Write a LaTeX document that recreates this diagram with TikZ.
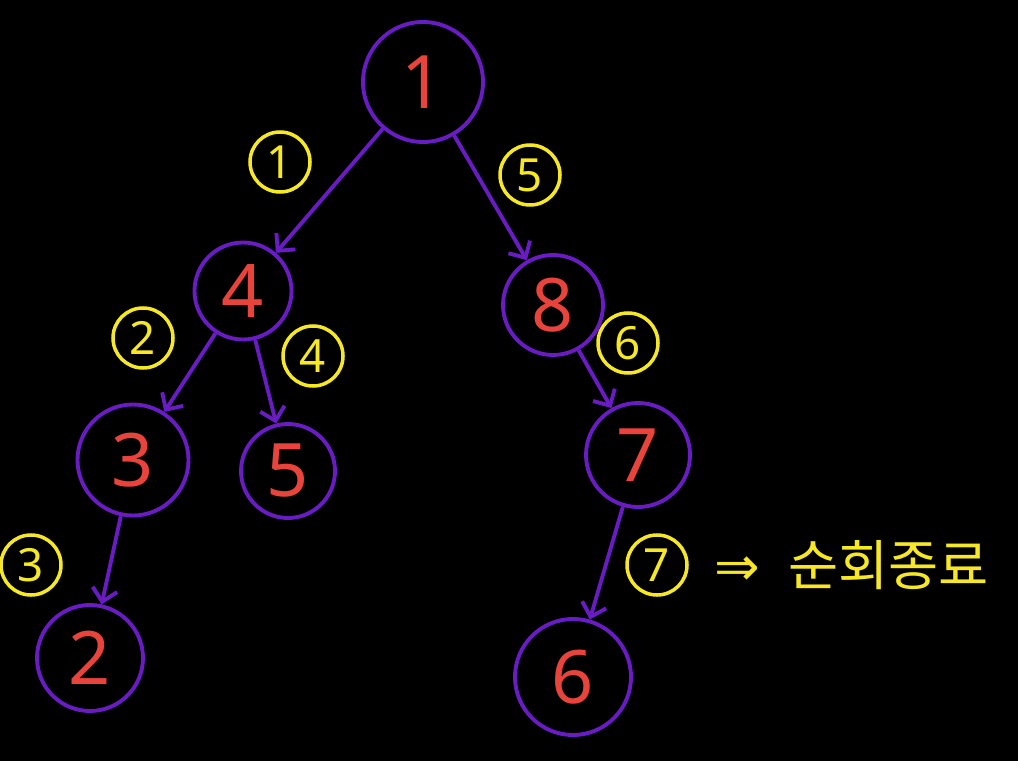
\documentclass[tikz,border=0pt]{standalone}
\usepackage{fontspec}
\setmainfont{Noto Sans}
\newfontfamily\kofont{Noto Sans CJK KR}
\newfontfamily\arrowfont{DejaVu Sans}
\usepackage{xcolor}
\usepackage{tikz}
\usetikzlibrary{arrows.meta,positioning}
\definecolor{treepurple}{RGB}{106,28,196}
\definecolor{numred}{RGB}{232,68,60}
\definecolor{markyellow}{RGB}{246,232,36}

\begin{document}
\begin{tikzpicture}[
  vertex/.style={draw=treepurple, line width=2.2pt, circle, inner sep=0pt, text=numred, font=\fontsize{42}{42}\selectfont},
  order/.style={draw=markyellow, line width=2pt, circle, minimum size=1.2cm, inner sep=0pt, text=markyellow, font=\fontsize{26}{26}\selectfont},
  arr/.style={-{Straight Barb[length=2.5mm,width=5mm]}, treepurple, line width=2.2pt}
]
  \fill[black] (0,0) rectangle (20.36,-15.22);
  \useasboundingbox (0,0) rectangle (20.36,-15.22);

  \node[vertex, minimum size=2.4cm]  (n1) at (8.46,-1.64)  {1};
  \node[vertex, minimum size=1.94cm] (n4) at (4.86,-5.82)  {4};
  \node[vertex, minimum size=2.0cm]  (n8) at (11.06,-6.1)  {8};
  \node[vertex, minimum size=2.22cm] (n3) at (2.66,-9.2)   {3};
  \node[vertex, minimum size=1.88cm] (n5) at (5.76,-9.42)  {5};
  \node[vertex, minimum size=2.08cm] (n7) at (12.76,-9.1)  {7};
  \node[vertex, minimum size=2.12cm] (n2) at (1.8,-13.16)  {2};
  \node[vertex, minimum size=2.32cm] (n6) at (11.46,-13.54) {6};

  \node[order] (o1) at (5.6,-3.24)  {1};
  \node[order] (o5) at (10.6,-3.5)  {5};
  \node[order] (o2) at (2.86,-6.76) {2};
  \node[order] (o4) at (6.26,-7.12) {4};
  \node[order] (o3) at (0.62,-11.3) {3};
  \node[order] (o6) at (12.56,-6.86) {6};
  \node[order] (o7) at (13.14,-11.3) {7};
  \node[right=0.4cm of o7, text=markyellow, font=\fontsize{31}{31}\selectfont] (done)
    {{\arrowfont ⇒}\hspace{0.55cm}{\kofont 순회종료}};

  \draw[arr] (n1) -- (n4);
  \draw[arr] (n1) -- (n8);
  \draw[arr] (n4) -- (n3);
  \draw[arr] (n4) -- (n5);
  \draw[arr] (n3) -- (n2);
  \draw[arr] (n8) -- (n7);
  \draw[arr] (n7) -- (n6);
\end{tikzpicture}
\end{document}
